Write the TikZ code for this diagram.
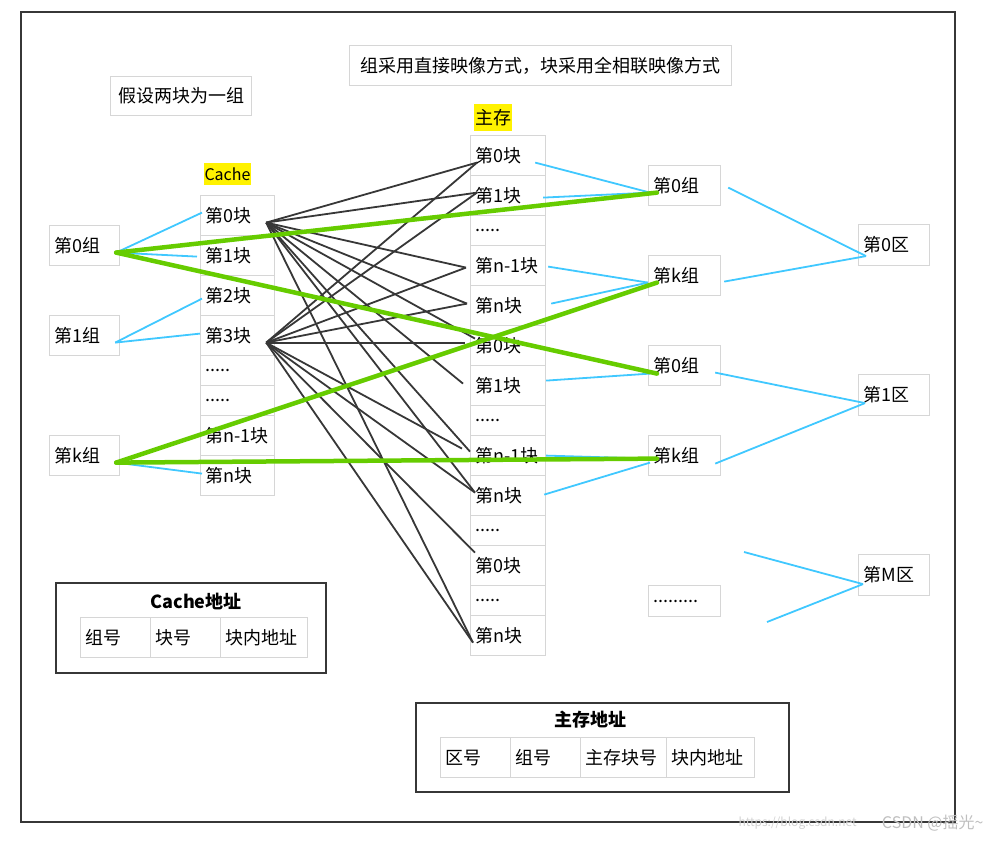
\documentclass[tikz,border=0pt]{standalone}
\usepackage{fontspec}
\setmainfont{Noto Sans CJK SC}
\usepackage{xcolor}
\usetikzlibrary{calc,positioning}

\definecolor{skyline}{RGB}{64,200,255}
\definecolor{leafgreen}{RGB}{102,204,0}
\definecolor{boxgray}{RGB}{214,214,214}
\definecolor{inkgray}{RGB}{55,55,55}
\newcommand{\dotrow}{.....}

\begin{document}
\begin{tikzpicture}[x=1pt,y=-1pt,
  every node/.style={font=\fontsize{18}{21}\selectfont},
  cell/.style={draw=boxgray, line width=1.2pt, anchor=north west, inner ysep=0pt,
    inner xsep=5pt, text width=#1, align=left},
  note/.style={draw=boxgray, line width=1.2pt, anchor=north west, inner sep=0pt},
  addrbox/.style={draw=inkgray, line width=2.2pt, anchor=north west, inner sep=0pt},
  tag/.style={fill=yellow, inner xsep=1pt, inner ysep=0pt},
  fan/.style={draw=inkgray, line width=1.8pt},
  wire/.style={draw=skyline, line width=1.8pt},
  trunk/.style={draw=leafgreen, line width=4.5pt, line cap=round}]
  \useasboundingbox (0,0) rectangle (987,841);
  \draw[inkgray, line width=2pt] (21,12) rectangle (955,822);

  % notes
  \node[note, minimum width=141, minimum height=39] (hint) at (110,76) {假设两块为一组};
  \node[note, minimum width=382, minimum height=40] (rule) at (349,45) {组采用直接映像方式，块采用全相联映像方式};

  % cache
  \node[tag, minimum height=22, font=\fontsize{16}{18}\selectfont] (ctag) at (227.5,174) {Cache};
  \foreach \y/\h/\t [count=\i from 0] in {195/40/第0块, 235/40/第1块, 275/40/第2块, 315/40/第3块,
      355/30/\dotrow, 385/30/\dotrow, 415/40/第n-1块, 455/40/第n块}
    \node[cell=64pt, minimum height=\h] (c\i) at (200,\y) {\t};
  \foreach \y/\t/\n in {225/第0组/0, 315/第1组/1, 435/第k组/k}
    \node[cell=60pt, minimum height=40] (L\n) at (49,\y) {\t};

  % main memory
  \node[tag, minimum height=27] (mtag) at (493,117.5) {主存};
  \foreach \y/\h/\t [count=\i] in {135/40/第0块, 175/40/第1块, 215/30/\dotrow, 245/40/第n-1块,
      285/40/第n块, 325/40/第0块, 365/40/第1块, 405/30/\dotrow, 435/40/第n-1块, 475/40/第n块,
      515/30/\dotrow, 545/40/第0块, 585/30/\dotrow, 615/40/第n块}
    \node[cell=65pt, minimum height=\h] (m\i) at (470,\y) {\t};

  % groups and zones
  \foreach \y/\t [count=\i] in {165/第0组, 255/第k组, 345/第0组, 435/第k组}
    \node[cell=62pt, minimum height=40] (g\i) at (648,\y) {\t};
  \node[cell=62pt, minimum height=31] (g5) at (648,585) {.........};
  \foreach \y/\t [count=\i] in {224/第0区, 374/第1区, 554/第M区}
    \node[cell=61pt, minimum height=41] (z\i) at (858,\y) {\t};

  % address formats
  \node[addrbox, minimum width=270, minimum height=90] (caddr) at (55,582) {};
  \node[font=\bfseries\fontsize{18}{21}\selectfont] (ctitle) at (196,601) {Cache地址};
  \foreach \x/\w/\t [count=\i] in {80/60pt/组号, 150/60pt/块号, 220/77pt/块内地址}
    \node[cell=\w, minimum height=40] (ca\i) at (\x,617) {\t};
  \node[addrbox, minimum width=373, minimum height=89] (maddr) at (415,702) {};
  \node[font=\bfseries\fontsize{18}{21}\selectfont] (mtitle) at (590,720) {主存地址};
  \foreach \x/\w/\t [count=\i] in {440/60pt/区号, 510/60pt/组号, 580/76pt/主存块号, 666/78pt/块内地址}
    \node[cell=\w, minimum height=40] (ma\i) at (\x,737) {\t};

  \node[text=gray!35, font=\fontsize{12}{14}\selectfont, anchor=west] (url) at (735,823) {https://blog.csdn.net};
  \node[text=gray!50, font=\fontsize{16}{18}\selectfont, anchor=east] (mark) at (987,823) {CSDN @摇光\textasciitilde};

  % ports
  \coordinate (A) at ($(c0.east)+(-9,7)$);
  \coordinate (B) at ($(c3.east)+(-9,7)$);
  \coordinate (L0p) at ($(L0.east)+(-4,7)$);
  \coordinate (L1p) at ($(L1.east)+(-5,7)$);
  \coordinate (Lkp) at ($(Lk.east)+(-4,7)$);
  \coordinate (z1p) at ($(z1.west)+(8,11)$);
  \coordinate (z2p) at ($(z2.west)+(7,8)$);
  \coordinate (z3p) at ($(z3.west)+(5,9)$);
  \coordinate (mz1) at (744,552);
  \coordinate (mz2) at (767,622);

  % block mapping
  \foreach \t/\dx/\dy in {1/7/7, 2/7/-3, 4/-4/2, 5/-3/-2, 6/5/-7, 7/-7/-2, 9/0/-4, 10/5/-3, 14/3/7}
    \draw[fan] (A) -- ($(m\t.west)+(\dx,\dy)$);
  \foreach \t/\dx/\dy in {1/7/7, 2/7/-3, 4/-4/2, 5/-3/-2, 6/-5/-3, 9/-8/-7, 10/5/-3, 12/5/-13, 14/3/7}
    \draw[fan] (B) -- ($(m\t.west)+(\dx,\dy)$);

  \draw[wire] (L0p) -- ($(c0.west)+(2,-3)$);
  \draw[wire] (L0p) -- ($(c1.west)+(-3,1)$);
  \draw[wire] (L1p) -- ($(c2.west)+(2,3)$);
  \draw[wire] (L1p) -- ($(c3.west)+(0,-2)$);
  \draw[wire] (Lkp) -- ($(c7.west)+(2,-2)$);

  \draw[wire] ($(m1.east)+(-11,7)$) -- ($(g1.west)+(2,7)$);
  \draw[wire] ($(m2.east)+(-3,2)$) -- ($(g1.west)+(2,7)$);
  \draw[wire] ($(m4.east)+(2,1)$) -- ($(g2.west)+(0,7)$);
  \draw[wire] ($(m5.east)+(5,-2)$) -- ($(g2.west)+(0,7)$);
  \draw[wire] ($(m7.east)+(0,-5)$) -- ($(g3.west)+(2,8)$);
  \draw[wire] (m9.east) -- ($(g4.west)+(2,3)$);
  \draw[wire] ($(m10.east)+(-2,-1)$) -- ($(g4.west)+(2,7)$);

  \draw[wire] ($(g1.east)+(7,2)$) -- (z1p);
  \draw[wire] ($(g2.east)+(3,6)$) -- (z1p);
  \draw[wire] ($(g3.east)+(-6,7)$) -- (z2p);
  \draw[wire] ($(g4.east)+(-6,8)$) -- (z2p);
  \draw[wire] (mz1) -- (z3p);
  \draw[wire] (mz2) -- (z3p);

  % group mapping
  \draw[trunk] (L0p) -- ($(g1.west)+(9,7)$);
  \draw[trunk] (L0p) -- ($(g3.west)+(9,8)$);
  \draw[trunk] (Lkp) -- ($(g2.west)+(9,7)$);
  \draw[trunk] (Lkp) -- ($(g4.west)+(9,3)$);
\end{tikzpicture}
\end{document}
